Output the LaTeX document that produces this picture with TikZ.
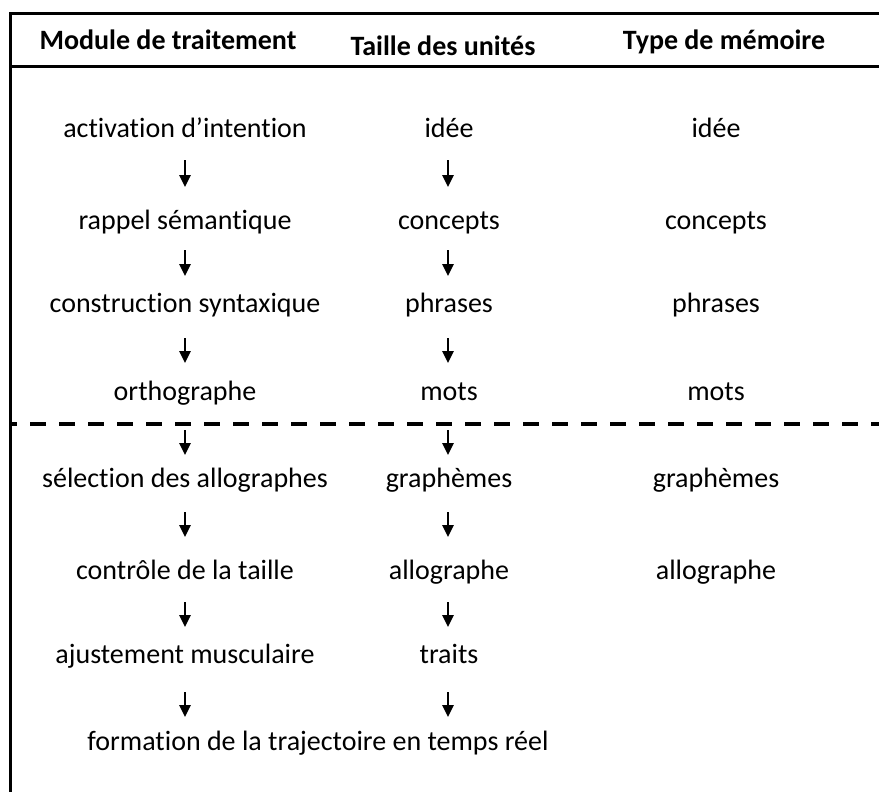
\documentclass[tikz,border=0pt]{standalone}
\usepackage{fontspec}
\setmainfont{Carlito}[RawFeature=-liga]
\usetikzlibrary{arrows.meta}
\begin{document}
\begin{tikzpicture}[x=1pt,y=-1pt,
  txt/.style={font=\fontsize{28}{32}\selectfont, inner sep=0pt, anchor=base, text height=20pt, text depth=6pt},
  hdr/.style={txt, font=\fontsize{28}{32}\selectfont\bfseries},
  arr/.style={line width=2.5pt, -{Triangle[length=12pt,width=11pt]}},
  rule/.style={line width=3pt},
  sep/.style={line width=3.5pt, dash pattern=on 16pt off 13pt, dash phase=9pt}]
\useasboundingbox (0,0) rectangle (879,792);
% frame
\draw[rule] (879,14) -- (10,14) -- (10,792);
\draw[rule] (10,67) -- (879,67);
\draw[sep] (10,424) -- (879,424);
% headers
\node[hdr] (h1) at (168,50) {Module de traitement};
\node[hdr] (h2) at (443,56) {Taille des unités};
\node[hdr] (h3) at (724,50) {Type de mémoire};
% column 1
\node[txt] (a1) at (185,137) {activation d’intention};
\node[txt] (a2) at (185,229) {rappel sémantique};
\node[txt] (a3) at (185,312) {construction syntaxique};
\node[txt] (a4) at (185,400) {orthographe};
\node[txt] (a5) at (185,487) {sélection des allographes};
\node[txt] (a6) at (185,579) {contrôle de la taille};
\node[txt] (a7) at (185,663) {ajustement musculaire};
\node[txt] (f) at (318,750) {formation de la trajectoire en temps réel};
% column 2
\node[txt] (b1) at (449,137) {idée};
\node[txt] (b2) at (449,229) {concepts};
\node[txt] (b3) at (449,312) {phrases};
\node[txt] (b4) at (449,400) {mots};
\node[txt] (b5) at (449,487) {graphèmes};
\node[txt] (b6) at (449,579) {allographe};
\node[txt] (b7) at (449,663) {traits};
% column 3
\node[txt] (c1) at (716,137) {idée};
\node[txt] (c2) at (716,229) {concepts};
\node[txt] (c3) at (716,312) {phrases};
\node[txt] (c4) at (716,400) {mots};
\node[txt] (c5) at (716,487) {graphèmes};
\node[txt] (c6) at (716,579) {allographe};
% arrows
\foreach \u/\v/\s/\e in {a1/a2/23/42,a2/a3/21/36,a3/a4/26/37,a4/a5/30/32,a5/a6/25/42,a6/a7/23/36,a7/f/29/33}
  \draw[arr, shorten <=\s pt, shorten >=\e pt] (\u.base) -- (\u.base |- \v.base);
\foreach \u/\v/\s/\e in {b1/b2/23/42,b2/b3/21/36,b3/b4/26/37,b4/b5/30/32,b5/b6/25/42,b6/b7/23/36,b7/f/29/33}
  \draw[arr, shorten <=\s pt, shorten >=\e pt] ([xshift=-1pt]\u.base) -- ([xshift=-1pt]\u.base |- \v.base);
\end{tikzpicture}
\end{document}
